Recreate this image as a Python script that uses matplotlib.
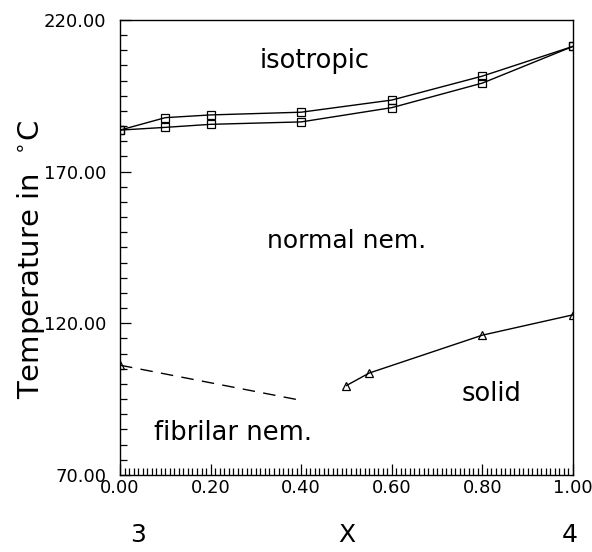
import matplotlib
matplotlib.use("Agg")
import matplotlib.pyplot as plt
from matplotlib.ticker import MultipleLocator, FormatStrFormatter

plt.rcParams['font.family'] = 'DejaVu Sans'

# upper boundary (isotropic / normal nematic), two branches with square markers
x_iso = [0.0, 0.1, 0.2, 0.4, 0.6, 0.8, 1.0]
t_iso_upper = [183.7, 187.8, 188.7, 189.6, 193.6, 201.5, 211.3]
t_iso_lower = [183.7, 184.6, 185.6, 186.4, 191.1, 199.2, 211.3]

# solid boundary (triangles)
x_solid = [0.50, 0.55, 0.80, 1.0]
t_solid = [99.5, 103.6, 116.1, 122.8]

# fibrilar nematic boundary (dashed)
x_fib = [0.0, 0.40]
t_fib = [106.2, 94.6]

fig = plt.figure(figsize=(5.92, 5.52), dpi=100)
ax = fig.add_axes([0.2027, 0.1395, 0.7652, 0.8243])

ax.plot(x_iso, t_iso_upper, color="black", lw=1.0, marker="s", ms=6,
        mfc="none", mec="black", mew=0.9)
ax.plot(x_iso, t_iso_lower, color="black", lw=1.0, marker="s", ms=6,
        mfc="none", mec="black", mew=0.9)
ax.plot(x_solid, t_solid, color="black", lw=1.0, marker="^", ms=6,
        mfc="none", mec="black", mew=0.9)
ax.plot(x_fib, t_fib, color="black", lw=1.0, ls=(0, (9, 6)))
ax.plot(x_fib[:1], t_fib[:1], ls="none", marker="^", ms=6,
        mfc="none", mec="black", mew=0.9)

ax.set_xlim(0, 1)
ax.set_ylim(70, 220)
ax.set_xticks([0, 0.2, 0.4, 0.6, 0.8, 1.0])
ax.set_yticks([70, 120, 170, 220])
ax.xaxis.set_minor_locator(MultipleLocator(0.01))
ax.yaxis.set_minor_locator(MultipleLocator(5))
ax.xaxis.set_major_formatter(FormatStrFormatter("%.2f"))
ax.yaxis.set_major_formatter(FormatStrFormatter("%.2f"))
ax.tick_params(which="both", direction="in", top=False, right=False, width=0.9)
ax.tick_params(which="major", length=8, labelsize=13)
ax.tick_params(axis="y", which="major", pad=10)
ax.tick_params(axis="x", which="major", pad=3)
ax.tick_params(which="minor", length=5)
for s in ax.spines.values():
    s.set_linewidth(1.0)

ax.text(0.43, 206.5, "isotropic", fontsize=18.5, ha="center", va="center")
ax.text(0.50, 147.3, "normal nem.", fontsize=18, ha="center", va="center")
ax.text(0.82, 96.7, "solid", fontsize=18.5, ha="center", va="center")
ax.text(0.25, 84, "fibrilar nem.", fontsize=18.5, ha="center", va="center")

fig.text(0.052, 0.53, "Temperature in  $^{\\circ}$C", rotation=90, fontsize=21,
         ha="center", va="center")

fig.text(138 / 592, 1 - 535 / 552, "3", fontsize=18, ha="center", va="center")
fig.text(347 / 592, 1 - 535 / 552, "X", fontsize=18, ha="center", va="center")
fig.text(570 / 592, 1 - 535 / 552, "4", fontsize=18, ha="center", va="center")

fig.savefig("out.png", dpi=100)
